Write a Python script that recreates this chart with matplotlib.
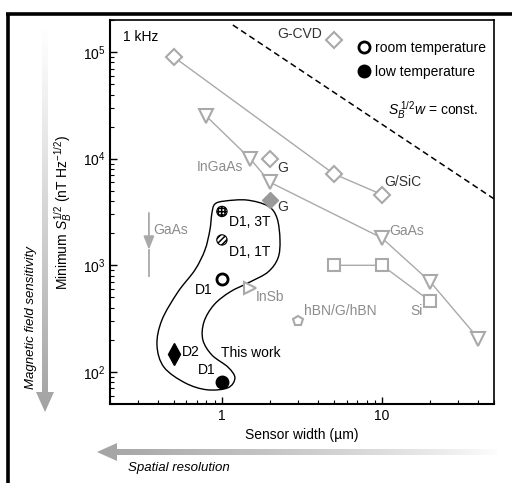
# comparação da sensibilidade mínima ao campo magnético vs largura do sensor
# com setas em gradiente nas margens (sensibilidade e resolução espacial)

import matplotlib.pyplot as plt
import numpy as np
from matplotlib.lines import Line2D
from matplotlib.patches import Polygon, PathPatch
from matplotlib.path import Path
from matplotlib.colors import LinearSegmentedColormap

plt.rcParams['font.family'] = ['Liberation Sans', 'DejaVu Sans']
plt.rcParams['mathtext.fontset'] = 'custom'
plt.rcParams['mathtext.rm'] = 'Liberation Sans'
plt.rcParams['mathtext.it'] = 'Liberation Sans:italic'
plt.rcParams['hatch.linewidth'] = 1.1

CINZA = '#a9a9a9'

# ---- dados (largura em um, S^1/2 em nT Hz^-1/2) ----
# grafeno (losangos abertos ligados)
g_w = [0.5, 5, 10]
g_s = [9.0e4, 7.2e3, 4.6e3]
gcvd_w, gcvd_s = [5], [1.3e5]
g2_w, g2_s = [2], [1.0e4]
gfill_w, gfill_s = [2], [4.1e3]

# semicondutores (triângulos)
tri_w = [0.8, 1.5, 2, 10, 20, 40]
tri_s = [2.5e4, 1.0e4, 6.0e3, 1.8e3, 7.0e2, 2.05e2]
insb_w, insb_s = [1.5], [6.1e2]
hbn_w, hbn_s = [3.0], [3.0e2]
si_w = [5, 10, 20]
si_s = [1.0e3, 1.0e3, 4.6e2]
gaas_seta_w = 0.35
gaas_seta_s = [3.1e3, 1.4e3, 8.0e2]   # topo, ponta, base

# este trabalho
d1_3t = (1.0, 3.2e3)
d1_1t = (1.0, 1.73e3)
d1_rt = (1.0, 7.4e2)
d1_lt = (1.0, 8.0e1)
d2_lt = (0.5, 1.47e2)

# contorno "This work"
contorno_w = [0.866, 0.904, 1.045, 1.432, 1.939, 2.208, 2.304, 2.239, 1.939,
              1.496, 1.122, 0.891, 0.772, 0.760, 0.866, 1.090, 1.205, 1.090,
              0.806, 0.588, 0.434, 0.393, 0.422, 0.531, 0.678, 0.783, 0.841]
contorno_s = [3090, 3758, 4009, 4093, 3597, 2773, 1726, 1169, 865,
              697, 562, 425, 294, 200, 144, 111, 88, 71,
              68, 79, 111, 179, 307, 562, 904, 1390, 2143]

# reta S^1/2 w = const.
const_sw = 2.1e5
reta_w = np.array([1.17, 50])


def contorno_suave(xs, ys):
    # catmull-rom fechado -> bezier cubica, feito em escala log
    lx = np.log10(xs)
    ly = np.log10(ys)
    p = np.column_stack([lx, ly])
    n = len(p)
    verts = [p[0]]
    codes = [Path.MOVETO]
    for i in range(n):
        p0, p1, p2, p3 = p[i - 1], p[i], p[(i + 1) % n], p[(i + 2) % n]
        c1 = p1 + (p2 - p0) / 6
        c2 = p2 - (p3 - p1) / 6
        verts += [c1, c2, p2]
        codes += [Path.CURVE4] * 3
    verts = 10 ** np.array(verts)
    return Path(verts, codes)


def seta_gradiente(ax, verts, extent, grad, cor):
    cmap = LinearSegmentedColormap.from_list('g', ['white', cor])
    poly = Polygon(verts, closed=True, facecolor='none', edgecolor='none')
    ax.add_patch(poly)
    ax.imshow(grad, cmap=cmap, vmin=0, vmax=1, extent=extent, aspect='auto',
              origin='upper', clip_path=poly, interpolation='bilinear')


fig = plt.figure(figsize=(5.12, 4.83), dpi=100)

# eixo de fundo em pixels para moldura e setas
bg = fig.add_axes([0, 0, 1, 1])
bg.set_axis_off()
bg.patch.set_visible(False)

t = np.linspace(0, 1, 256)
# seta vertical (sensibilidade)
vx, vtop, vbase, vtip = 45, 25, 392, 412
seta_gradiente(bg, [(vx - 3, vtop), (vx + 3, vtop), (vx + 3, vbase), (vx + 9, vbase),
                    (vx, vtip), (vx - 9, vbase), (vx - 3, vbase)],
               [vx - 10, vx + 10, vtip, vtop], (t ** 1.1)[:, None], '#a2a2a2')
# seta horizontal (resolução espacial)
hy, htip, hbase, hend = 452, 97, 117, 500
seta_gradiente(bg, [(htip, hy), (hbase, hy - 9), (hbase, hy - 3), (hend, hy - 3),
                    (hend, hy + 3), (hbase, hy + 3), (hbase, hy + 9)],
               [htip, hend, hy + 10, hy - 10], ((1 - t) ** 0.8)[None, :], '#a4a4a4')
bg.plot([6, 512], [14, 14], color='black', lw=2.6, solid_capstyle='butt')
bg.plot([8, 8], [13, 483], color='black', lw=2.6, solid_capstyle='butt')
bg.text(31, 318, 'Magnetic field sensitivity', rotation=90, style='italic',
        fontsize=9.5, ha='center', va='center')
bg.text(128, 468, 'Spatial resolution', style='italic', fontsize=9.5,
        ha='left', va='center')
bg.set_xlim(0, 512)
bg.set_ylim(483, 0)

ax = fig.add_axes([110 / 512, 1 - 404 / 483, 384 / 512, 384 / 483])
ax.set_xscale('log')
ax.set_yscale('log')
ax.set_xlim(0.2, 50)
ax.set_ylim(50, 2e5)

# séries cinzas
estilo = dict(color=CINZA, lw=1.0, mfc='white', mec=CINZA, mew=1.5)
ax.plot(g_w, g_s, marker='D', ms=8, **estilo)
ax.plot(gcvd_w, gcvd_s, marker='D', ms=8, ls='none', **estilo)
ax.plot(g2_w, g2_s, marker='D', ms=8, ls='none', **estilo)
ax.plot(gfill_w, gfill_s, marker='D', ms=8, ls='none', color=CINZA, mfc='#999999',
        mec='#999999')
ax.plot(tri_w, tri_s, marker='v', ms=10, **estilo)
ax.plot(insb_w, insb_s, marker='>', ms=9, ls='none', **estilo)
ax.plot(hbn_w, hbn_s, marker='p', ms=7, ls='none', **estilo)
ax.plot(si_w, si_s, marker='s', ms=8, **estilo)
ax.annotate('', xy=(gaas_seta_w, gaas_seta_s[1]), xytext=(gaas_seta_w, gaas_seta_s[0]),
            arrowprops=dict(arrowstyle='-|>,head_length=0.4,head_width=0.16', color=CINZA,
                            lw=1.3, mutation_scale=20, shrinkA=0, shrinkB=0))
ax.plot([gaas_seta_w, gaas_seta_w], gaas_seta_s[1:], color=CINZA, lw=1.3)

# reta tracejada
ax.plot(reta_w, const_sw / reta_w, color='black', lw=1.1, ls=(0, (4, 2.5)))

# contorno deste trabalho
ax.add_patch(PathPatch(contorno_suave(contorno_w, contorno_s), facecolor='none',
                       edgecolor='black', lw=1.0))

# pontos deste trabalho
ax.scatter(*d1_3t, s=55, facecolor='white', edgecolor='black', hatch='+++++', lw=0.8, zorder=4)
ax.scatter(*d1_1t, s=55, facecolor='white', edgecolor='black', hatch='//////', lw=0.8, zorder=4)
ax.plot(*d1_rt, marker='o', ms=8, mfc='white', mec='black', mew=2, ls='none')
ax.plot(*d1_lt, marker='o', ms=9, color='black', ls='none')
ax.plot(*d2_lt, marker='d', ms=11, color='black', ls='none')

# rótulos
def rotulo(txt, xy, dx, dy, cor, ha='center'):
    ax.annotate(txt, xy, xytext=(dx, dy), textcoords='offset pixels', ha=ha,
                va='center', color=cor, fontsize=10)

ESC = '#333333'
rotulo('G-CVD', (gcvd_w[0], gcvd_s[0]), -34, 6, ESC)
rotulo('G', (g2_w[0], g2_s[0]), 13, -9, ESC)
rotulo('G/SiC', (g_w[2], g_s[2]), 21, 13, ESC)
rotulo('G', (gfill_w[0], gfill_s[0]), 13, -7, ESC)
rotulo('InGaAs', (tri_w[1], tri_s[1]), -30, -8, '#8c8c8c')
rotulo('GaAs', (tri_w[3], tri_s[3]), 25, 7, '#8c8c8c')
rotulo('GaAs', (gaas_seta_w, gaas_seta_s[1]), 22, 20, '#8c8c8c')
rotulo('InSb', (insb_w[0], insb_s[0]), 20, -9, '#8c8c8c')
rotulo('hBN/G/hBN', (hbn_w[0], hbn_s[0]), 42, 10, '#8c8c8c')
rotulo('Si', (si_w[2], si_s[2]), -14, -10, '#8c8c8c')
rotulo('D1, 3T', d1_3t, 7, -11, 'black', ha='left')
rotulo('D1, 1T', d1_1t, 7, -12, 'black', ha='left')
rotulo('D1', d1_rt, -18, -11, 'black')
rotulo('D2', d2_lt, 8, 2, 'black', ha='left')
rotulo('D1', d1_lt, -15, 12, 'black')
ax.text(0.99, 150, 'This work', fontsize=10, va='center', ha='left')
ax.text(0.034, 0.956, '1 kHz', transform=ax.transAxes, fontsize=10, va='center')
ax.text(0.724, 0.766, r'$S_B^{\;1/2}w$ = const.', transform=ax.transAxes,
        fontsize=10, va='center')

handles = [Line2D([], [], marker='o', ls='none', mfc='white', mec='black', mew=2, ms=8),
           Line2D([], [], marker='o', ls='none', color='black', ms=9)]
ax.legend(handles, ['room temperature', 'low temperature'], loc='upper left',
          bbox_to_anchor=(0.625, 0.96), frameon=False, fontsize=10,
          handletextpad=0.2, handlelength=1.2, labelspacing=0.75, borderaxespad=0)

ax.set_xlabel('Sensor width (µm)', fontsize=10, labelpad=4)
ax.set_ylabel(r'Minimum $S_B^{1/2}$ (nT Hz$^{-1/2}$)', fontsize=10, labelpad=6)
ax.tick_params(which='both', direction='in', top=False, right=False, labelsize=10)
ax.tick_params(which='major', length=5, width=1)
ax.tick_params(which='minor', length=3, width=0.8)
for s in ax.spines.values():
    s.set_linewidth(1.2)
ax.spines['left'].set_linewidth(1.5)
ax.spines['bottom'].set_linewidth(1.5)
ax.set_xticks([1, 10])
ax.set_xticklabels(['1', '10'])

fig.savefig('out.png', dpi=100)
